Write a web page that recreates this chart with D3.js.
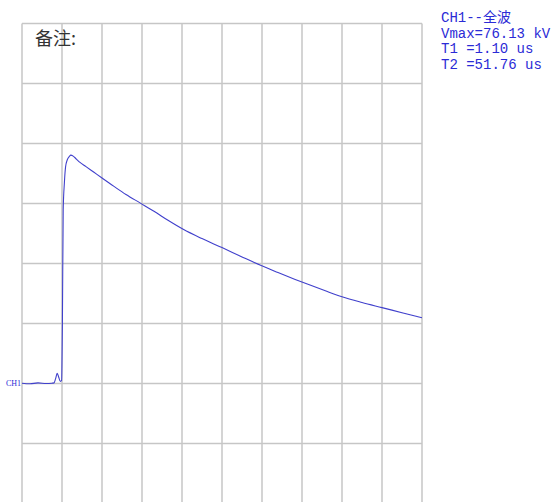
<!DOCTYPE html>
<html>
<head>
<meta charset="utf-8">
<script src="https://cdn.jsdelivr.net/npm/d3@7"></script>
<style>
  html, body { margin: 0; padding: 0; background: #fff; }
  svg { display: block; }
</style>
</head>
<body>
<svg id="chart" width="558" height="502"></svg>
<script>
// Lightning impulse record, full wave, channel CH1 (10 us/div, 20 kV/div)
const timeUs = [0, 2, 4, 6, 7.5, 8.0, 8.4, 8.8, 9.2, 9.6, 9.9, 10.1, 10.3, 10.6, 10.9, 11.3, 11.8, 12.2,
  12.8, 13.6, 14.5, 16, 18, 20, 23, 26, 29.5, 33, 36.5, 40.3, 45, 50, 55, 59.8, 64, 68.3,
  72, 76, 80, 85, 90, 95, 100];
const voltageKV = [0.1, -0.1, 0.2, 0, 0.1, 0.2, 1.6, 3.4, 2.0, 0.7, 1.0, 20, 57.8, 67, 72.3, 74.5, 75.6, 76.13,
  75.8, 74.8, 73.7, 72.3, 70.4, 68.5, 65.7, 63.0, 60.2, 57.4, 54.4, 51.4, 48.3, 45.3, 42.2, 39.3, 37, 34.7,
  32.8, 30.8, 28.9, 27, 25.3, 23.6, 21.9];

const xTicks = [0, 10, 20, 30, 40, 50, 60, 70, 80, 90, 100];
const yTicks = [-40, -20, 0, 20, 40, 60, 80, 100, 120];

const infoLines = ["CH1--全波", "Vmax=76.13 kV", "T1 =1.10 us", "T2 =51.76 us"];
const noteText = "备注:";
const channelLabel = "CH1";

const svg = d3.select("#chart");
const x = d3.scaleLinear().domain([0, 100]).range([22, 422]);
const y = d3.scaleLinear().domain([-40, 120]).range([503.5, 23.5]);

// grid
const grid = svg.append("g").attr("stroke", "#c6c6c6").attr("stroke-width", 1.5);
grid.selectAll("line.v").data(xTicks).join("line")
  .attr("class", "v")
  .attr("x1", d => x(d)).attr("x2", d => x(d))
  .attr("y1", y(120)).attr("y2", y(-40));
grid.selectAll("line.h").data(yTicks).join("line")
  .attr("class", "h")
  .attr("x1", x(0)).attr("x2", x(100))
  .attr("y1", d => y(d)).attr("y2", d => y(d));

// note in the top-left cell
svg.append("text")
  .attr("x", 35).attr("y", 45)
  .attr("font-family", "'Noto Sans CJK SC', sans-serif")
  .attr("font-size", 18)
  .attr("fill", "#333")
  .text(noteText);

// waveform
const pts = timeUs.map((t, i) => [t, voltageKV[i]]);
const line = d3.line().x(d => x(d[0])).y(d => y(d[1])).curve(d3.curveMonotoneX);
svg.append("path")
  .datum(pts)
  .attr("d", line)
  .attr("fill", "none")
  .attr("stroke", "#4040cc")
  .attr("stroke-width", 1.1);

// channel marker at zero level
svg.append("text")
  .attr("x", 21).attr("y", y(0) + 2)
  .attr("text-anchor", "end")
  .attr("font-family", "'Liberation Serif', serif")
  .attr("font-size", 8)
  .attr("fill", "#2b2bd6")
  .text(channelLabel);

// measurement summary
svg.append("g")
  .selectAll("text").data(infoLines).join("text")
  .attr("x", 441)
  .attr("y", (d, i) => 22 + i * 15.5)
  .attr("font-family", "'Liberation Mono', 'Noto Sans CJK SC', monospace")
  .attr("font-size", 14)
  .attr("fill", "#2b2bd6")
  .text(d => d);
</script>
</body>
</html>
